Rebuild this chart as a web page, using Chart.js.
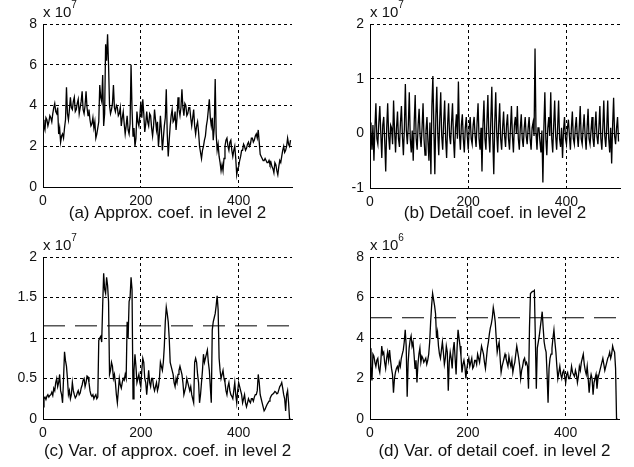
<!DOCTYPE html>
<html>
<head>
<meta charset="utf-8">
<script src="https://cdn.jsdelivr.net/npm/chart.js@4"></script>
<style>
  body { margin: 0; background: #fff; }
  #wrap { position: relative; width: 634px; height: 467px; }
  canvas { position: absolute; }
  .exp { position: absolute; font: 15px "Liberation Sans", Arial, sans-serif; color: #111; white-space: nowrap; }
  .exp sup { font-size: 10px; position: relative; top: -3px; }
</style>
</head>
<body>
<div id="wrap">
  <canvas id="chart-a" width="317" height="233" style="left:0;top:0"></canvas>
  <canvas id="chart-b" width="317" height="233" style="left:317px;top:0"></canvas>
  <canvas id="chart-c" width="317" height="234" style="left:0;top:233px"></canvas>
  <canvas id="chart-d" width="317" height="234" style="left:317px;top:233px"></canvas>
  <div class="exp" style="left:43px;top:2px">x 10<sup>7</sup></div>
  <div class="exp" style="left:370px;top:2px">x 10<sup>7</sup></div>
  <div class="exp" style="left:43px;top:235px">x 10<sup>7</sup></div>
  <div class="exp" style="left:370px;top:235px">x 10<sup>6</sup></div>
</div>
<script>
// sample positions (every 2nd coefficient)
const sampleIdx = Array.from({ length: 254 }, (_, i) => i * 2);
const xTicks = [0, 200, 400];
const xMax = 509;

// (a) approx. coef, x 10^7
const approxCoef = [3.3,3.0,2.8,3.4,3.3,3.0,3.2,3.5,3.4,3.2,3.6,3.9,4.1,3.7,3.6,3.9,2.6,2.9,2.2,2.5,
  2.6,2.4,2.9,3.3,4.9,3.6,3.3,3.8,4.4,3.9,3.8,4.2,4.4,3.7,3.8,4.1,4.3,3.6,3.9,4.2,
  4.7,3.8,3.6,4.0,4.7,3.9,3.5,3.8,3.3,3.0,3.1,3.4,2.9,3.2,2.4,2.6,2.9,3.2,5.0,4.4,
  4.2,5.5,3.0,3.6,7.0,6.2,7.5,6.0,4.0,3.6,3.8,4.1,5.0,3.9,3.7,4.0,3.9,3.5,3.6,3.9,
  3.0,3.4,3.7,3.1,2.6,3.0,3.5,2.8,2.6,3.1,6.0,3.8,2.5,2.9,2.0,2.4,3.7,3.2,3.0,3.5,
  4.2,3.4,4.3,3.6,2.7,3.1,3.7,3.2,3.0,3.6,3.5,2.9,2.5,3.0,3.8,3.3,2.8,3.2,2.0,2.6,
  3.5,2.8,1.8,2.4,3.0,3.4,4.8,2.6,1.5,2.3,3.0,3.5,3.8,3.2,3.3,3.7,2.8,3.4,4.4,3.8,
  3.5,3.9,4.8,3.9,3.5,4.1,4.0,3.5,3.6,3.9,3.9,3.4,3.0,3.4,3.8,3.0,2.6,3.0,3.2,2.7,
  2.0,1.7,1.4,1.8,2.0,2.3,2.5,3.0,3.3,3.8,4.3,3.4,3.0,3.4,2.3,2.9,5.3,2.6,1.8,2.1,
  1.5,1.2,0.8,1.1,0.8,1.4,2.0,2.3,2.4,2.0,1.8,2.2,2.3,1.8,1.5,1.8,2.0,1.4,0.6,0.9,
  1.0,1.3,1.5,1.8,1.8,2.1,2.0,1.8,1.9,2.1,2.2,2.0,2.1,2.4,2.4,2.2,2.3,2.5,2.6,2.4,
  2.8,2.2,1.6,1.5,1.4,1.3,1.3,1.4,1.3,1.2,1.2,1.3,1.1,1.2,1.0,0.9,0.7,1.2,1.1,0.8,
  0.6,1.0,1.3,1.2,1.5,1.8,2.0,1.7,1.8,2.0,2.4,2.1,2.0,2.3];

// (b) detail coef, x 10^7
const detailCoef = [0.2,0.05,-0.3,0.15,-0.5,0.1,0.55,-0.1,-0.2,0.2,0.5,0.0,-0.45,0.15,0.3,-0.15,-0.7,0.1,0.55,-0.05,
  -0.3,0.15,0.1,-0.2,0.6,0.05,-0.35,0.1,0.4,-0.1,-0.25,0.2,0.5,-0.05,-0.4,0.1,0.9,0.05,-0.2,0.15,
  0.75,-0.1,-0.35,0.05,-0.5,0.2,0.7,-0.1,-0.3,0.15,0.45,-0.05,-0.25,0.1,0.55,-0.1,-0.4,0.05,0.3,-0.15,
  -0.5,0.2,-0.75,0.5,1.05,0.1,-0.75,0.3,0.85,0.0,-0.4,0.25,0.75,-0.05,-0.3,0.2,0.6,-0.1,-0.45,0.15,
  0.55,-0.05,-0.2,0.2,0.55,-0.1,-0.45,0.1,0.35,-0.1,0.95,0.0,-0.3,0.15,0.35,-0.1,-0.35,0.1,0.3,-0.05,
  -0.3,0.1,0.3,-0.1,-0.2,0.15,0.3,-0.05,-0.25,0.2,0.55,-0.1,-0.3,0.1,-0.7,0.15,0.6,-0.1,-0.3,0.2,
  0.7,-0.05,-0.35,0.25,0.85,-0.1,-0.75,0.2,0.75,0.0,-0.35,0.15,0.55,-0.1,-0.3,0.1,0.4,-0.05,-0.25,0.15,
  0.35,-0.1,-0.3,0.1,0.5,-0.05,-0.35,0.15,0.3,0.0,0.5,-0.1,-0.3,0.1,0.35,-0.1,-0.25,0.1,0.3,-0.05,
  -0.2,0.1,0.3,-0.1,-0.3,0.1,0.2,-0.05,1.55,0.0,-0.3,0.1,0.1,-0.15,-0.35,0.05,-0.9,0.1,0.75,-0.1,
  -0.4,0.1,0.3,-0.05,0.75,-0.1,-0.35,0.15,0.6,-0.05,-0.3,0.1,0.6,-0.1,-0.25,0.1,-0.45,0.05,0.3,-0.1,
  -0.2,0.1,0.25,-0.05,-0.3,0.1,0.4,-0.1,-0.2,0.1,0.3,-0.05,-0.25,0.1,0.5,-0.1,-0.2,0.1,0.35,-0.05,
  -0.3,0.1,0.45,-0.1,-0.2,0.05,0.3,-0.1,-0.25,0.1,0.4,-0.05,-0.2,0.1,0.5,-0.1,-0.3,0.1,0.6,-0.05,
  -0.25,0.1,0.6,-0.1,-0.35,0.1,-0.55,0.15,0.65,-0.05,-0.2,0.1,0.3,-0.15];

// (c) variance of approx. coef, x 10^7
const approxVar = [0.15,0.25,0.27,0.24,0.28,0.3,0.27,0.29,0.3,0.33,0.29,0.38,0.35,0.45,0.5,0.4,0.45,0.55,0.35,0.3,
  0.2,0.5,0.83,0.72,0.65,0.5,0.3,0.35,0.25,0.3,0.45,0.35,0.3,0.26,0.28,0.32,0.35,0.3,0.32,0.38,
  0.42,0.48,0.5,0.4,0.45,0.53,0.52,0.45,0.35,0.3,0.28,0.3,0.25,0.28,0.3,0.25,0.27,0.97,1.0,1.02,
  0.95,1.4,1.8,1.6,1.55,1.75,1.65,1.45,0.55,0.6,0.7,0.65,0.5,0.55,0.45,0.3,0.2,0.35,0.5,0.42,
  0.38,0.45,0.5,0.48,0.55,0.5,1.2,1.0,1.45,1.5,1.75,1.6,0.25,0.6,0.8,0.65,0.45,0.5,0.55,0.45,
  0.4,0.6,0.75,0.7,0.5,0.45,0.3,0.45,0.6,0.45,0.4,0.5,0.5,0.4,0.35,0.4,0.45,0.35,0.4,0.5,
  0.7,0.65,0.6,0.7,0.9,1.2,1.38,1.3,1.2,1.0,0.7,0.65,0.6,0.55,0.45,0.4,0.5,0.45,0.55,0.6,
  0.65,0.6,0.55,0.45,0.3,0.35,0.4,0.5,0.45,0.4,0.35,0.4,0.3,0.25,0.2,0.7,0.75,0.7,0.55,0.45,
  0.2,0.3,0.45,0.6,0.8,0.7,0.75,0.8,0.85,0.7,0.6,0.4,0.2,1.1,1.2,1.25,1.3,1.4,1.52,1.35,
  0.75,0.6,0.5,0.55,0.6,0.5,0.45,0.35,0.3,0.4,0.45,0.35,0.3,0.28,0.25,0.35,0.45,0.3,0.2,0.35,
  0.45,0.4,0.35,0.3,0.2,0.25,0.3,0.2,0.15,0.2,0.25,0.22,0.2,0.25,0.25,0.22,0.27,0.3,0.3,0.35,
  0.55,0.45,0.3,0.25,0.2,0.15,0.1,0.12,0.15,0.18,0.2,0.22,0.25,0.28,0.3,0.31,0.32,0.34,0.33,0.31,
  0.32,0.36,0.4,0.42,0.45,0.38,0.3,0.25,0.1,0.3,0.35,0.2,0.0,0.0];
const approxVarLimit = 1.15;

// (d) variance of detail coef, x 10^6
const detailVar = [3.5,2.6,1.9,3.2,3.1,2.8,2.6,2.9,3.0,2.5,2.3,2.8,3.6,3.2,3.3,2.8,2.5,3.0,3.3,2.9,
  3.4,2.9,2.5,2.2,1.3,2.0,2.3,2.5,2.6,2.4,2.8,2.6,3.0,3.2,3.4,3.8,4.4,3.6,1.1,2.8,
  3.5,3.9,4.1,3.6,3.8,3.2,2.5,2.9,1.8,2.7,3.2,3.5,2.8,3.1,3.0,2.8,2.9,3.0,2.7,2.9,
  3.2,3.8,4.8,5.6,6.2,5.9,5.6,5.2,4.0,4.3,3.6,3.2,3.0,3.4,3.8,3.3,2.7,3.0,3.6,3.3,
  1.4,2.8,3.3,3.0,2.5,3.4,3.8,3.0,2.2,3.5,4.4,4.0,3.6,3.1,2.3,2.7,2.9,2.6,2.0,2.5,
  2.8,3.0,2.6,2.8,3.0,2.5,2.6,2.9,2.9,2.7,3.2,3.0,2.8,3.2,3.6,3.4,3.2,2.8,2.5,3.0,
  3.5,3.8,4.2,4.5,4.7,5.0,5.5,5.2,4.8,4.0,3.3,3.6,3.8,3.0,2.3,2.6,2.8,3.0,3.2,3.0,
  2.8,2.6,3.1,2.8,2.6,2.9,2.3,2.6,2.8,3.2,3.6,3.3,3.0,2.6,2.0,2.4,2.6,2.9,3.0,2.7,
  2.8,2.6,1.5,4.5,6.2,6.25,6.3,6.3,6.35,4.0,1.5,3.5,3.8,4.1,4.5,4.9,5.3,4.5,3.8,3.5,
  3.3,2.2,0.8,2.5,3.0,3.2,3.5,4.0,4.4,3.8,3.3,2.6,2.0,2.3,2.6,2.2,2.0,2.3,2.4,2.1,
  1.8,2.2,2.3,2.0,2.0,2.2,2.6,2.3,2.2,2.1,2.4,2.2,1.8,2.1,2.6,2.4,2.8,3.0,3.2,2.7,
  2.4,2.2,2.6,2.0,1.3,1.9,2.2,2.0,1.2,1.8,2.0,2.2,1.5,2.0,2.2,2.4,2.6,2.8,3.0,2.7,
  2.4,2.6,2.8,3.0,3.1,3.3,3.0,3.2,3.6,3.4,3.3,2.5,0.0,0.0];
const detailVarLimit = 5.0;

const approxTicks = [0, 2, 4, 6, 8];
const detailTicks = [-1, 0, 1, 2];
const approxVarTicks = [0, 0.5, 1, 1.5, 2];
const detailVarTicks = [0, 2, 4, 6, 8];

Chart.defaults.font.family = '"Liberation Sans", Arial, sans-serif';
Chart.defaults.color = '#111';

function makePanel(id, values, yTicks, caption, box, limit) {
  const datasets = [{
    data: sampleIdx.map((x, i) => ({ x: x, y: values[i] })),
    borderColor: '#000',
    borderWidth: 1.3,
    pointRadius: 0
  }];
  if (limit !== undefined) {
    datasets.push({
      data: [{ x: 0, y: limit }, { x: xMax, y: limit }],
      borderColor: '#000',
      borderWidth: 1,
      borderDash: [22, 10],
      pointRadius: 0
    });
  }
  new Chart(document.getElementById(id), {
    type: 'line',
    data: { datasets: datasets },
    options: {
      responsive: false,
      animation: false,
      layout: { padding: { left: 0, top: box.top, right: box.right, bottom: box.bottom } },
      plugins: { legend: { display: false }, tooltip: { enabled: false } },
      scales: {
        x: {
          type: 'linear', min: 0, max: xMax,
          afterBuildTicks: s => { s.ticks = xTicks.map(v => ({ value: v })); },
          afterFit: s => { s.height = box.xh; },
          grid: { color: '#000', drawTicks: false },
          border: { color: '#000', dash: [3, 3] },
          ticks: { font: { size: 14 }, padding: 6, maxRotation: 0, autoSkip: false },
          title: { display: true, text: caption, font: { size: 17 }, padding: 0 }
        },
        y: {
          type: 'linear', min: yTicks[0], max: yTicks[yTicks.length - 1],
          afterBuildTicks: s => { s.ticks = yTicks.map(v => ({ value: v })); },
          afterFit: s => { s.width = box.yw; },
          grid: { color: '#000', drawTicks: false },
          border: { color: '#000', dash: [3, 3] },
          ticks: { font: { size: 14 }, padding: 6, callback: v => String(v) }
        }
      }
    }
  });
}

makePanel('chart-a', approxCoef, approxTicks, '(a) Approx. coef. in level 2',
  { top: 24, right: 25, bottom: 9, xh: 37, yw: 43 });
makePanel('chart-b', detailCoef, detailTicks, '(b) Detail coef. in level 2',
  { top: 24, right: 14, bottom: 9, xh: 36, yw: 53 });
makePanel('chart-c', approxVar, approxVarTicks, '(c) Var. of approx. coef. in level 2',
  { top: 24, right: 25, bottom: 5, xh: 43, yw: 43 }, approxVarLimit);
makePanel('chart-d', detailVar, detailVarTicks, '(d) Var. of detail coef. in level 2',
  { top: 24, right: 15, bottom: 5, xh: 43, yw: 53 }, detailVarLimit);
</script>
</body>
</html>
